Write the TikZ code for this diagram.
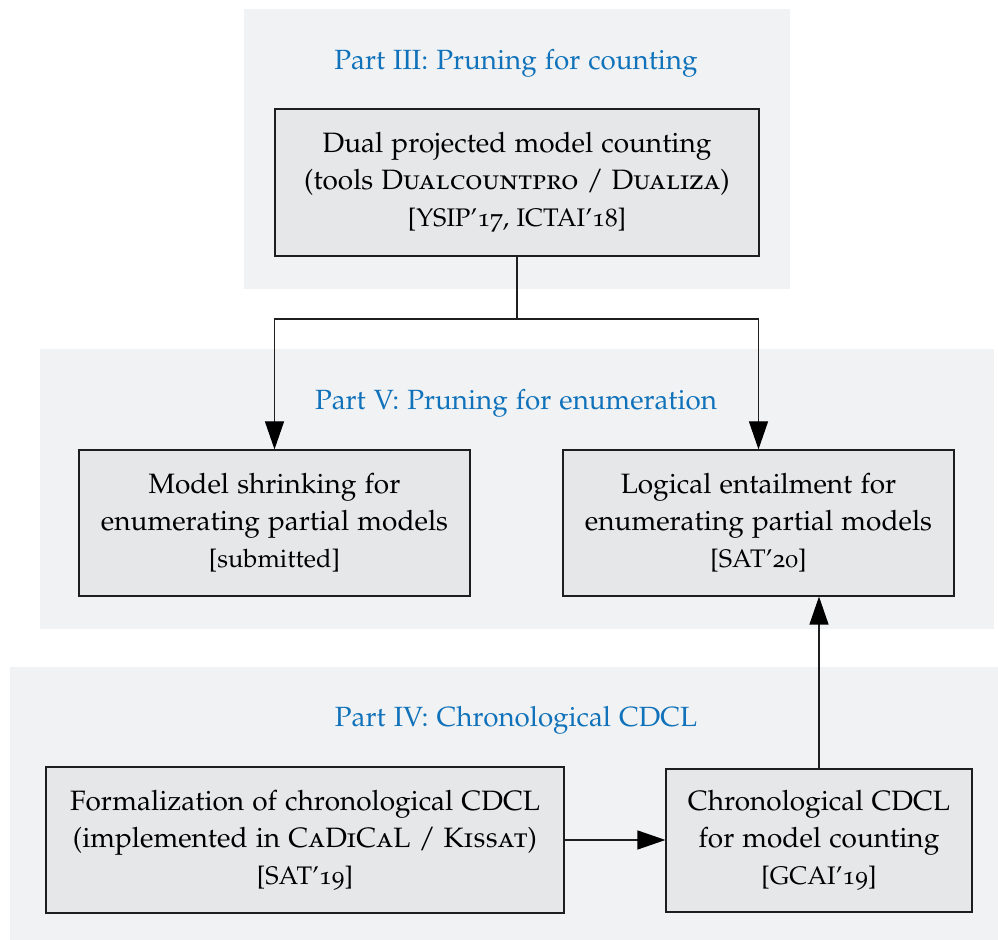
\documentclass[tikz,border=0pt]{standalone}
\usepackage[T1]{fontenc}
\usepackage[sc,osf]{mathpazo}
\usetikzlibrary{arrows.meta}
\definecolor{panelbg}{RGB}{241,242,244}
\definecolor{boxbg}{RGB}{230,231,233}
\definecolor{boxline}{RGB}{30,30,30}
\definecolor{titleblue}{RGB}{16,114,186}
\tikzset{
  panel/.style={fill=panelbg, draw=none, inner sep=0pt},
  parttitle/.style={text=titleblue, font=\fontsize{13.9}{18}\selectfont, inner sep=0pt},
  workbox/.style={fill=boxbg, draw=boxline, line width=0.6pt, align=center, inner sep=0pt,
    font=\fontsize{14}{18.5}\selectfont},
  arr/.style={-{Triangle[length=14pt,width=9.5pt,fill=black,color=black]}, line width=0.6pt, draw=boxline},
  conn/.style={line width=0.6pt, draw=boxline}
}
\newcommand{\refline}[1]{{\fontsize{12.7}{18.5}\selectfont #1}}
\begin{document}
\begin{tikzpicture}[x=0.5pt,y=-0.5pt]
\useasboundingbox (0,0) rectangle (998,940);
% panels
\node[panel, minimum width=273pt, minimum height=140pt] (p3) at (517,149) {};
\node[panel, minimum width=477pt, minimum height=140pt] (p5) at (517,489) {};
\node[panel, minimum width=494pt, minimum height=136.5pt] (p4) at (504,803.5) {};
% titles
\node[parttitle] (t3) at (516,63) {Part III: Pruning for counting};
\node[parttitle] (t5) at (516,403) {Part V: Pruning for enumeration};
\node[parttitle] (t4) at (516,720) {Part IV: Chronological CDCL};
% boxes
\node[workbox, minimum width=242pt, minimum height=73.5pt] (dual) at (517,182.5)
  {Dual projected model counting\\(tools \textsc{Dualcountpro} / \textsc{Dualiza})\\\refline{[YSIP'17, ICTAI'18]}};
\node[workbox, minimum width=195.5pt, minimum height=73pt] (model) at (274.5,523)
  {Model shrinking for\\enumerating partial models\\\refline{[submitted]}};
\node[workbox, minimum width=195.5pt, minimum height=73pt] (logic) at (758.5,523)
  {Logical entailment for\\enumerating partial models\\\refline{[SAT'20]}};
\node[workbox, minimum width=259pt, minimum height=73pt] (formal) at (305,840)
  {Formalization of chronological CDCL\\(implemented in \textsc{CaDiCaL} / \textsc{Kissat})\\\refline{[SAT'19]}};
\node[workbox, minimum width=153pt, minimum height=71.5pt] (chrono) at (819,840.5)
  {Chronological CDCL\\for model counting\\\refline{[GCAI'19]}};
% connectors
\coordinate (split) at (517,319);
\draw[conn] (dual.south) -- (split);
\draw[arr] (split) -| (model.north);
\draw[arr] (split) -| (logic.north);
\draw[arr] (formal.east) -- (formal.east -| chrono.west);
\draw[arr] (chrono.north) -- (chrono.north |- logic.south);
\end{tikzpicture}
\end{document}
